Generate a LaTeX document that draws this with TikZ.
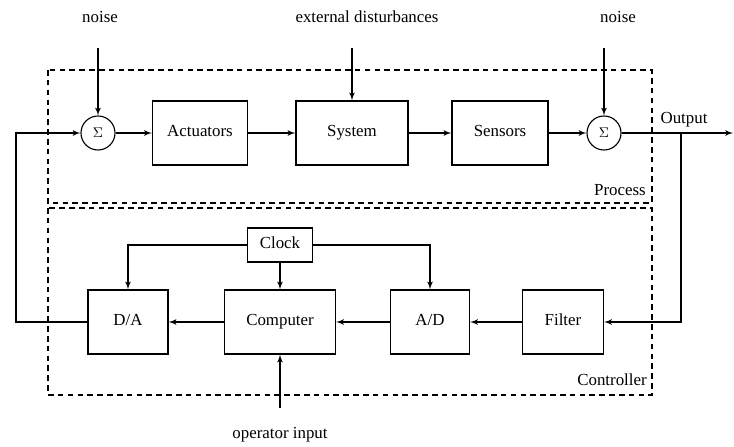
\documentclass[tikz,border=0pt]{standalone}
\usepackage{fontspec}
\setmainfont{Liberation Serif}
\usetikzlibrary{arrows}

\begin{document}
\begin{tikzpicture}[x=0.025cm, y=-0.025cm]
    \tikzset{block/.style = {shape=rectangle, draw, line width=0.9pt, minimum height=1.6cm, text height=1.6ex, text depth=0.4ex, font=\fontsize{12}{14}\selectfont}}
    \tikzset{sum/.style = {shape=circle, draw, line width=0.8pt, minimum size=0.85cm, inner sep=0pt}}
    \tikzset{txt/.style = {font=\fontsize{12}{14}\selectfont}}
    \tikzset{region/.style = {draw, line width=0.8pt, dash pattern=on 4pt off 3pt}}
    \tikzset{edge/.style = {->,> = latex', line width=0.9pt}}

    \useasboundingbox (0,0) rectangle (734,446);

    \draw[region] (48,70) rectangle (652,203);
    \draw[region] (48,208) rectangle (652,395);

    \node[sum] (sumA) at (98,133) {$\Sigma$};
    \node[block, minimum width=2.375cm] (act) at (200,133) {Actuators};
    \node[block, minimum width=2.8cm] (sys) at (352,133) {System};
    \node[block, minimum width=2.4cm] (sen) at (500,133) {Sensors};
    \node[sum] (sumB) at (604,133) {$\Sigma$};

    \node[block, minimum width=1.625cm, minimum height=0.85cm] (clk) at (280,245) {Clock};
    \node[block, minimum width=2.0cm] (da) at (128,322) {D/A};
    \node[block, minimum width=2.775cm] (comp) at (280,322) {Computer};
    \node[block, minimum width=1.975cm] (ad) at (430,322) {A/D};
    \node[block, minimum width=2.025cm] (filt) at (563,322) {Filter};

    \node[txt] (noiseA) at (100,17) {noise};
    \node[txt] (ext) at (367,17) {external disturbances};
    \node[txt] (noiseB) at (618,17) {noise};
    \node[txt] (output) at (684,120) {Output};
    \node[txt] (process) at (620,190) {Process};
    \node[txt] (controller) at (612,380) {Controller};
    \node[txt] (operator) at (280,435) {operator input};

    \coordinate (noiseAin) at (98,48);
    \coordinate (extin) at (352,48);
    \coordinate (noiseBin) at (604,48);
    \coordinate (out) at (733,133);
    \coordinate (tap) at (681,133);
    \coordinate (fb) at (16,322);
    \coordinate (opin) at (280,408);

    \draw[edge] (noiseAin) to (sumA);
    \draw[edge] (extin) to (sys);
    \draw[edge] (noiseBin) to (sumB);
    \draw[edge] (sumA) to (act);
    \draw[edge] (act) to (sys);
    \draw[edge] (sys) to (sen);
    \draw[edge] (sen) to (sumB);
    \draw[edge] (sumB) to (out);
    \draw[edge] (tap) |- (filt);
    \draw[edge] (filt) to (ad);
    \draw[edge] (ad) to (comp);
    \draw[edge] (comp) to (da);
    \draw[edge] (da) -- (fb) |- (sumA);
    \draw[edge] (clk) -| (da);
    \draw[edge] (clk) -| (ad);
    \draw[edge] (clk) to (comp);
    \draw[edge] (opin) to (comp);
  \end{tikzpicture}
\end{document}
